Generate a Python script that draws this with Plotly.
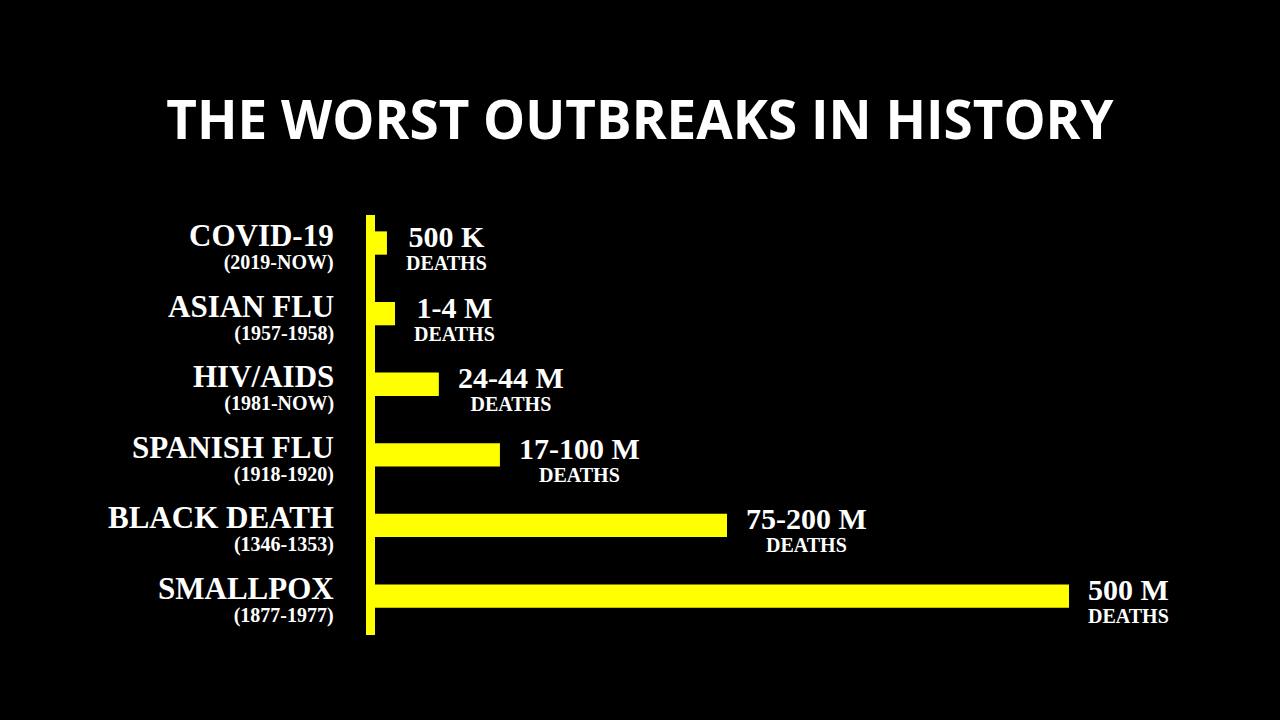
import plotly.graph_objects as go

# ---- data ----
title_text = "THE WORST OUTBREAKS IN HISTORY"
diseases = ["COVID-19", "ASIAN FLU", "HIV/AIDS", "SPANISH FLU", "BLACK DEATH", "SMALLPOX"]
periods = ["(2019-NOW)", "(1957-1958)", "(1981-NOW)", "(1918-1920)", "(1346-1353)", "(1877-1977)"]
death_labels = ["500 K", "1-4 M", "24-44 M", "17-100 M", "75-200 M", "500 M"]
death_unit = "DEATHS"
# illustrative bar lengths as drawn (not to scale), smallpox = 500
bar_length = [8.6, 14.4, 46, 90, 253.6, 500]

YELLOW = "#FFFF00"
SERIF = "Liberation Serif, Times New Roman, serif"

fig = go.Figure(
    go.Bar(
        x=bar_length,
        y=diseases,
        orientation="h",
        width=0.33,
        marker=dict(color=YELLOW, line=dict(width=0)),
        hoverinfo="skip",
    )
)

annotations = []
for name, period, dl, val in zip(diseases, periods, death_labels, bar_length):
    annotations.append(dict(
        x=0, y=name, xref="x", yref="y",
        xanchor="right", yanchor="middle", xshift=-39, yshift=-3,
        align="right", showarrow=False,
        font=dict(family=SERIF, size=18, color="white"),
        text=f"<span style='font-size:31px'><b>{name}</b></span><br>"
             f"<span style='font-size:20px'><b>{period}</b></span>",
    ))
    annotations.append(dict(
        x=val, y=name, xref="x", yref="y",
        xanchor="left", yanchor="middle", xshift=17, yshift=-4,
        align="center", showarrow=False,
        font=dict(family=SERIF, size=18, color="white"),
        text=f"<span style='font-size:30px'><b>{dl}</b></span><br>"
             f"<span style='font-size:20px'><b>{death_unit}</b></span>",
    ))

fig.update_layout(
    width=1280, height=720,
    paper_bgcolor="black", plot_bgcolor="black",
    margin=dict(l=375, r=211, t=215, b=85),
    showlegend=False,
    title=dict(
        text=title_text,
        font=dict(family="Open Sans", size=53, color="white", weight="bold"),
        x=0.5, xref="container", xanchor="center",
        y=1 - 120 / 720, yref="container", yanchor="middle",
    ),
    xaxis=dict(range=[0, 500], visible=False, fixedrange=True),
    yaxis=dict(
        categoryorder="array", categoryarray=diseases,
        range=[5.552, -0.397],
        showticklabels=False, ticks="", showgrid=False, zeroline=False,
        showline=True, linecolor=YELLOW, linewidth=9,
        fixedrange=True,
    ),
    annotations=annotations,
)

fig.write_html("out.html")
